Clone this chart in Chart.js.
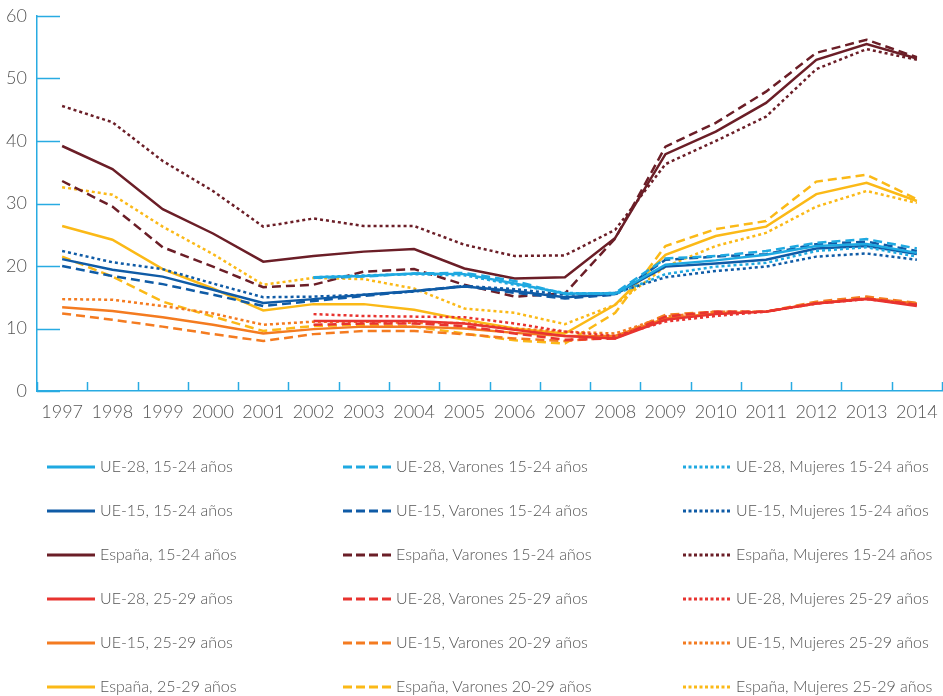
<!DOCTYPE html>
<html><head><meta charset="utf-8">
<script src="https://cdn.jsdelivr.net/npm/chart.js@4.4.1/dist/chart.umd.min.js"></script>
<style>
html,body{margin:0;padding:0;background:#fff;}
#wrap{position:relative;width:943px;height:696px;overflow:hidden;font-family:Lato,sans-serif;}
#cw{position:absolute;left:0;top:0;width:943px;height:440px;}
#legend{position:absolute;left:0;top:0;width:943px;height:696px;}
.sw{position:absolute;}
.lt{position:absolute;font-size:16px;font-weight:300;color:#555;white-space:nowrap;line-height:20px;}
</style></head>
<body><div id="wrap"><div id="cw"><canvas id="c" width="943" height="440"></canvas></div><div id="legend"></div></div>
<script>
const years = ['1997','1998','1999','2000','2001','2002','2003','2004','2005','2006','2007','2008','2009','2010','2011','2012','2013','2014'];
const yTicks = [0,10,20,30,40,50,60];
const N = null;
const ue28_1524   = [N,N,N,N,N,18.2,18.4,18.8,18.7,17.2,15.6,15.6,20.2,20.9,21.8,23.2,23.5,22.1];
const ue28_1524_v = [N,N,N,N,N,18.1,18.3,18.8,18.9,17.6,15.5,15.7,21.2,21.6,22.4,23.7,24.3,22.8];
const ue28_1524_m = [N,N,N,N,N,18.2,18.5,18.7,18.5,17.0,15.7,15.5,18.7,19.9,20.5,22.4,23.0,21.5];
const ue15_1524   = [21.1,19.4,18.3,16.2,14.1,14.7,15.4,16.0,16.7,16.0,15.0,15.5,19.9,20.4,21.0,22.8,23.2,21.9];
const ue15_1524_v = [20.0,18.4,17.1,15.4,13.6,14.4,15.2,16.0,16.8,15.7,14.8,15.4,21.0,21.5,21.9,23.5,23.9,22.4];
const ue15_1524_m = [22.4,20.6,19.5,17.2,15.0,15.1,15.4,15.9,16.8,16.3,15.4,15.7,18.2,19.2,19.9,21.5,22.0,21.0];
const es_1524     = [39.2,35.5,29.1,25.2,20.7,21.6,22.3,22.7,19.6,18.0,18.2,24.5,37.9,41.5,46.1,53.0,55.5,53.2];
const es_1524_v   = [33.6,29.5,23.0,19.9,16.6,17.0,19.1,19.5,17.0,15.1,15.6,24.4,39.1,42.9,47.9,54.1,56.2,53.4];
const es_1524_m   = [45.6,43.0,36.8,32.0,26.3,27.6,26.4,26.4,23.4,21.6,21.7,25.8,36.3,40.0,43.9,51.5,54.7,53.0];
const ue28_2529   = [N,N,N,N,N,11.2,11.2,11.2,10.8,9.8,8.8,8.4,11.4,12.3,12.7,14.0,14.7,13.6];
const ue28_2529_v = [N,N,N,N,N,10.6,10.8,10.8,10.4,9.2,8.2,8.4,11.9,12.7,12.7,14.0,14.8,13.8];
const ue28_2529_m = [N,N,N,N,N,12.3,12.0,11.9,11.8,10.8,9.5,8.8,11.1,12.0,12.7,14.0,14.7,13.8];
const ue15_2529   = [13.4,12.8,11.8,10.6,9.2,9.9,10.3,10.3,10.0,9.3,8.8,8.8,11.6,12.4,12.7,14.1,14.8,14.0];
const ue15_2029_v = [12.4,11.4,10.3,9.1,8.0,9.1,9.6,9.6,9.1,8.4,8.0,8.6,12.2,12.7,12.7,14.3,15.1,14.1];
const ue15_2529_m = [14.7,14.6,13.6,12.4,10.6,11.1,11.1,10.9,10.9,10.0,9.5,9.2,11.9,12.7,12.7,14.0,14.8,13.9];
const es_2529     = [26.4,24.2,19.5,16.4,12.9,13.9,13.9,13.0,11.4,10.0,9.2,13.8,21.8,24.8,26.3,31.5,33.3,30.4];
const es_2029_v   = [21.5,18.3,14.3,11.9,9.6,10.4,10.6,10.3,9.2,8.1,7.6,12.5,23.2,25.9,27.2,33.5,34.6,30.7];
const es_2529_m   = [32.6,31.4,26.3,21.9,17.0,18.1,17.9,16.4,13.2,12.5,10.7,13.8,19.9,23.2,25.3,29.5,32.0,30.1];

const C = {lblue:'#1fa9e1', dblue:'#0f5ba6', maroon:'#6b1e27', red:'#e8332f', orange:'#f47b20', yellow:'#fbb917'};
const AXIS = '#29abe2';
const DASH = {solid:[], dashed:[9,5], dotted:[3,3]};

// legend order (row-major, 3 columns)
const series = [
  ['UE-28, 15-24 años', ue28_1524, C.lblue, 'solid'],
  ['UE-28, Varones 15-24 años', ue28_1524_v, C.lblue, 'dashed'],
  ['UE-28, Mujeres 15-24 años', ue28_1524_m, C.lblue, 'dotted'],
  ['UE-15, 15-24 años', ue15_1524, C.dblue, 'solid'],
  ['UE-15, Varones 15-24 años', ue15_1524_v, C.dblue, 'dashed'],
  ['UE-15, Mujeres 15-24 años', ue15_1524_m, C.dblue, 'dotted'],
  ['España, 15-24 años', es_1524, C.maroon, 'solid'],
  ['España, Varones 15-24 años', es_1524_v, C.maroon, 'dashed'],
  ['España, Mujeres 15-24 años', es_1524_m, C.maroon, 'dotted'],
  ['UE-28, 25-29 años', ue28_2529, C.red, 'solid'],
  ['UE-28, Varones 25-29 años', ue28_2529_v, C.red, 'dashed'],
  ['UE-28, Mujeres 25-29 años', ue28_2529_m, C.red, 'dotted'],
  ['UE-15, 25-29 años', ue15_2529, C.orange, 'solid'],
  ['UE-15, Varones 20-29 años', ue15_2029_v, C.orange, 'dashed'],
  ['UE-15, Mujeres 25-29 años', ue15_2529_m, C.orange, 'dotted'],
  ['España, 25-29 años', es_2529, C.yellow, 'solid'],
  ['España, Varones 20-29 años', es_2029_v, C.yellow, 'dashed'],
  ['España, Mujeres 25-29 años', es_2529_m, C.yellow, 'dotted']
];
// drawing priority: lower order = on top
const drawOrder = {'#1fa9e1':1,'#e8332f':2,'#0f5ba6':3,'#f47b20':4,'#6b1e27':5,'#fbb917':6};

const datasets = series.map(s => ({
  label: s[0], data: s[1], borderColor: s[2], backgroundColor: s[2],
  borderDash: DASH[s[3]], borderWidth: 2.5, pointRadius: 0, tension: 0, fill: false,
  order: drawOrder[s[2]], spanGaps: false
}));

const innerTicks = {
  id: 'innerTicks',
  afterDraw(chart) {
    const {ctx, chartArea: a, scales: {x, y}} = chart;
    ctx.save();
    ctx.strokeStyle = AXIS; ctx.lineWidth = 1.5;
    ctx.beginPath();
    y.ticks.forEach(t => { const py = Math.round(y.getPixelForValue(t.value)) + 0.5; ctx.moveTo(a.left, py); ctx.lineTo(a.left + 23, py); });
    for (let i = 0; i <= years.length; i++) {
      const px = Math.round(x.getPixelForValue(i - 0.5)) + 0.5;
      ctx.moveTo(px, a.bottom); ctx.lineTo(px, a.bottom - 9);
    }
    ctx.stroke();
    ctx.restore();
  }
};

const tickFont = {family: 'Lato', size: 18, weight: '300'};
const chart = new Chart(document.getElementById('c'), {
  type: 'line',
  data: {labels: years, datasets},
  options: {
    responsive: false, animation: false, devicePixelRatio: 1,
    layout: {padding: {top: 16, right: 1, bottom: 0, left: 0}},
    plugins: {legend: {display: false}, tooltip: {enabled: false}},
    scales: {
      x: {
        offset: true,
        grid: {display: false, drawTicks: false},
        border: {display: true, color: AXIS, width: 1.5},
        ticks: {color: '#555', font: tickFont, padding: 10, maxRotation: 0, autoSkip: false},
        afterFit(s) { s.height = 49; s.paddingLeft = 0; s.paddingRight = 0; }
      },
      y: {
        min: 0, max: 60,
        grid: {display: false, drawTicks: false},
        border: {display: true, color: AXIS, width: 1.5},
        afterBuildTicks(s) { s.ticks = yTicks.map(v => ({value: v})); },
        ticks: {color: '#555', font: tickFont, padding: 10},
        afterFit(s) { s.width = 37; s.paddingTop = 0; s.paddingBottom = 0; }
      }
    }
  },
  plugins: [innerTicks]
});

// HTML legend built from chart datasets
const leg = document.getElementById('legend');
const colX = [47, 343, 683];
chart.data.datasets.forEach((ds, i) => {
  const r = Math.floor(i / 3), c = i % 3;
  const cy = 467 + 44 * r;
  const svgNS = 'http://www.w3.org/2000/svg';
  const svg = document.createElementNS(svgNS, 'svg');
  svg.setAttribute('width', '48'); svg.setAttribute('height', '6');
  svg.setAttribute('class', 'sw');
  svg.style.left = colX[c] + 'px'; svg.style.top = (cy - 3) + 'px';
  const ln = document.createElementNS(svgNS, 'line');
  ln.setAttribute('x1', '0'); ln.setAttribute('x2', '48'); ln.setAttribute('y1', '3'); ln.setAttribute('y2', '3');
  ln.setAttribute('stroke', ds.borderColor); ln.setAttribute('stroke-width', '3');
  const d = ds.borderDash.length ? (ds.borderDash[0] > 4 ? '9,4' : '3,2.5') : '';
  if (d) ln.setAttribute('stroke-dasharray', d);
  svg.appendChild(ln); leg.appendChild(svg);
  const t = document.createElement('div');
  t.className = 'lt'; t.textContent = ds.label;
  t.style.left = (colX[c] + 53) + 'px'; t.style.top = (cy - 11) + 'px';
  leg.appendChild(t);
});
</script></body></html>
